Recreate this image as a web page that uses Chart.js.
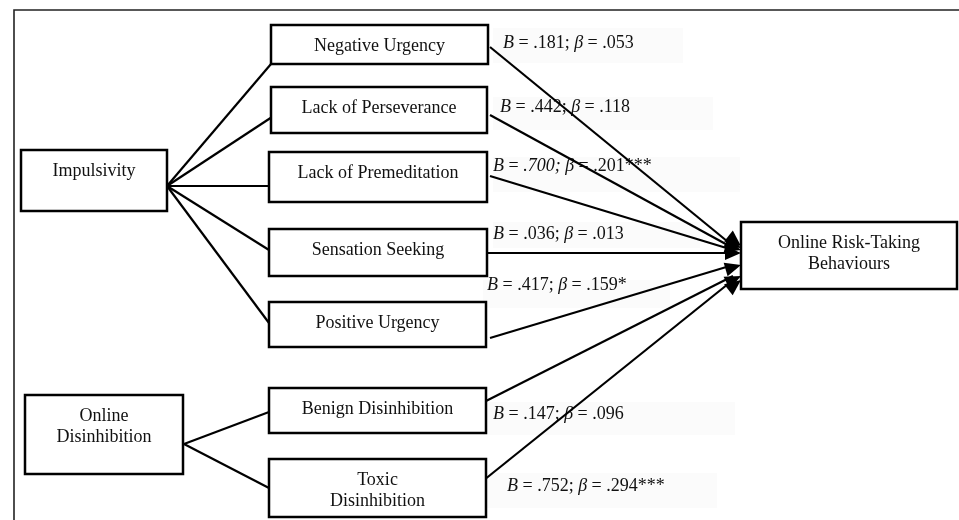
<!DOCTYPE html>
<html>
<head>
<meta charset="utf-8">
<script src="https://cdn.jsdelivr.net/npm/chart.js@4/dist/chart.umd.min.js"></script>
<style>
  html, body { margin: 0; padding: 0; background: #fff; }
  canvas { display: block; }
</style>
</head>
<body>
<canvas id="pathChart" width="959" height="520"></canvas>
<script>
// =============================
// Data
// =============================
const predictors = [
  "Negative Urgency", "Lack of Perseverance", "Lack of Premeditation",
  "Sensation Seeking", "Positive Urgency", "Benign Disinhibition", "Toxic Disinhibition"
];
const unstdB = [0.181, 0.442, 0.700, 0.036, 0.417, 0.147, 0.752];
const stdBeta = [0.053, 0.118, 0.201, 0.013, 0.159, 0.096, 0.294];
const stars = ["", "", "***", "", "*", "", "***"];

// =============================
// Layout (pixel space, y down)
// =============================
const FONT = '"Liberation Serif", "Times New Roman", serif';

const nodes = {
  imp:  { box: [21, 150, 167, 211],  lines: ["Impulsivity"] },
  od:   { box: [25, 395, 183, 474],  lines: ["Online", "Disinhibition"] },
  nu:   { box: [271, 25, 488, 64],   lines: ["Negative Urgency"] },
  lp:   { box: [271, 87, 487, 133],  lines: ["Lack of Perseverance"] },
  lpm:  { box: [269, 152, 487, 202], lines: ["Lack of Premeditation"] },
  ss:   { box: [269, 229, 487, 276], lines: ["Sensation Seeking"] },
  pu:   { box: [269, 302, 486, 347], lines: ["Positive Urgency"] },
  bd:   { box: [269, 388, 486, 433], lines: ["Benign Disinhibition"] },
  td:   { box: [269, 459, 486, 517], lines: ["Toxic", "Disinhibition"] },
  ortb: { box: [741, 222, 957, 289], lines: ["Online Risk-Taking", "Behaviours"] }
};

// parent -> facet connectors
const branches = [
  { from: [167, 186], to: [271, 64] },
  { from: [167, 186], to: [272, 117] },
  { from: [167, 186], to: [271, 186] },
  { from: [167, 186], to: [269, 250] },
  { from: [167, 186], to: [269, 323] },
  { from: [184, 444], to: [269, 412] },
  { from: [184, 444], to: [269, 488] }
];

// facet -> outcome arrows, one per predictor
const arrowStarts = [[490, 47], [490, 115], [490, 176], [488, 253], [490, 338], [484, 402], [484, 480]];
const arrowEnds   = [[741, 246], [741, 248], [741, 250], [741, 253], [741, 265], [741, 276], [741, 280]];

// coefficient labels: left x, middle y, background box
const labelPos = [[503, 43], [500, 107], [493, 166], [493, 234], [487, 285], [493, 414], [507, 486]];
const labelBg = [
  [493, 28, 683, 63], [493, 97, 713, 130], [493, 157, 740, 192], [493, 222, 700, 248],
  [483, 280, 670, 308], [483, 402, 735, 435], [483, 473, 717, 508]
];

const fmt = v => v.toFixed(3).replace(/^0/, "");

// =============================
// Datasets: every line goes through the scales
// =============================
const lineDatasets = [];
branches.forEach(b => {
  lineDatasets.push({
    data: [{ x: b.from[0], y: b.from[1] }, { x: b.to[0], y: b.to[1] }],
    borderColor: "#000", borderWidth: 2.2, pointRadius: 0, showLine: true
  });
});
predictors.forEach((p, i) => {
  lineDatasets.push({
    label: p,
    data: [{ x: arrowStarts[i][0], y: arrowStarts[i][1] }, { x: arrowEnds[i][0] - 8, y: arrowEnds[i][1] }],
    borderColor: "#000", borderWidth: 2.2, pointRadius: 0, showLine: true
  });
});

// =============================
// Diagram plugin (frame, boxes, labels, arrowheads)
// =============================
function drawRuns(ctx, runs, x, y, size) {
  ctx.textAlign = "left";
  ctx.textBaseline = "middle";
  runs.forEach(([txt, italic]) => {
    ctx.font = (italic ? "italic " : "") + size + "px " + FONT;
    ctx.fillText(txt, x, y);
    x += ctx.measureText(txt).width;
  });
}

const diagramPlugin = {
  id: "diagram",
  beforeDatasetsDraw(chart) {
    const { ctx, scales: { x, y } } = chart;
    ctx.save();

    // outer frame (top + left)
    ctx.strokeStyle = "#222";
    ctx.lineWidth = 1.6;
    ctx.beginPath();
    ctx.moveTo(x.getPixelForValue(959), y.getPixelForValue(10));
    ctx.lineTo(x.getPixelForValue(14), y.getPixelForValue(10));
    ctx.lineTo(x.getPixelForValue(14), y.getPixelForValue(520));
    ctx.stroke();

    // coefficient labels
    predictors.forEach((p, i) => {
      const bg = labelBg[i];
      ctx.fillStyle = "#fbfbfb";
      ctx.fillRect(x.getPixelForValue(bg[0]), y.getPixelForValue(bg[1]),
        x.getPixelForValue(bg[2]) - x.getPixelForValue(bg[0]),
        y.getPixelForValue(bg[3]) - y.getPixelForValue(bg[1]));
      ctx.fillStyle = "#111";
      drawRuns(ctx, [
        ["B", true], [" = ", false], [fmt(unstdB[i]) + "; ", i === 2],
        ["\u03B2", true], [" = " + fmt(stdBeta[i]) + stars[i], false]
      ], x.getPixelForValue(labelPos[i][0]), y.getPixelForValue(labelPos[i][1]), 18);
    });
    ctx.restore();
  },
  afterDatasetsDraw(chart) {
    const { ctx, scales: { x, y } } = chart;
    ctx.save();

    // arrowheads
    ctx.fillStyle = "#000";
    arrowEnds.forEach((end, i) => {
      const sx = x.getPixelForValue(arrowStarts[i][0]), sy = y.getPixelForValue(arrowStarts[i][1]);
      const ex = x.getPixelForValue(end[0]), ey = y.getPixelForValue(end[1]);
      const a = Math.atan2(ey - sy, ex - sx);
      const len = 16, half = 7;
      ctx.beginPath();
      ctx.moveTo(ex, ey);
      ctx.lineTo(ex - len * Math.cos(a) + half * Math.sin(a), ey - len * Math.sin(a) - half * Math.cos(a));
      ctx.lineTo(ex - len * Math.cos(a) - half * Math.sin(a), ey - len * Math.sin(a) + half * Math.cos(a));
      ctx.closePath();
      ctx.fill();
    });

    // boxes
    Object.values(nodes).forEach(n => {
      const [x0, y0, x1, y1] = n.box;
      const px0 = x.getPixelForValue(x0), py0 = y.getPixelForValue(y0);
      const px1 = x.getPixelForValue(x1), py1 = y.getPixelForValue(y1);
      ctx.fillStyle = "#fff";
      ctx.fillRect(px0, py0, px1 - px0, py1 - py0);
      ctx.strokeStyle = "#000";
      ctx.lineWidth = 2.5;
      ctx.strokeRect(px0, py0, px1 - px0, py1 - py0);
      ctx.fillStyle = "#111";
      ctx.font = "18px " + FONT;
      ctx.textAlign = "center";
      ctx.textBaseline = "middle";
      n.lines.forEach((t, k) => ctx.fillText(t, (px0 + px1) / 2, py0 + 21 + k * 21));
    });
    ctx.restore();
  }
};

// =============================
// Chart
// =============================
new Chart(document.getElementById("pathChart"), {
  type: "scatter",
  data: { datasets: lineDatasets },
  options: {
    responsive: false,
    animation: false,
    layout: { padding: 0 },
    plugins: { legend: { display: false }, tooltip: { enabled: false } },
    scales: {
      x: { type: "linear", min: 0, max: 959, display: false },
      y: { type: "linear", min: 0, max: 520, reverse: true, display: false }
    }
  },
  plugins: [diagramPlugin]
});
</script>
</body>
</html>
